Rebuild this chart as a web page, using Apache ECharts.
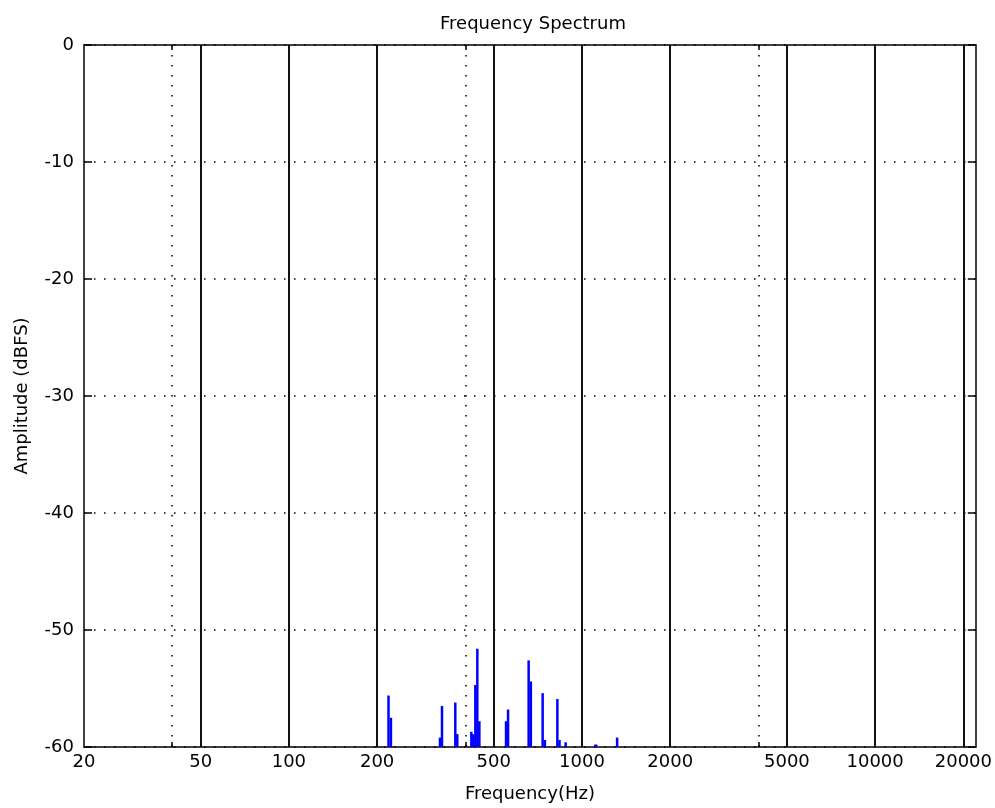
<!DOCTYPE html>
<html>
<head>
<meta charset="utf-8">
<script src="https://cdn.jsdelivr.net/npm/echarts@6/dist/echarts.min.js"></script>
<style>
  html, body { margin: 0; padding: 0; background: #fff; }
  #spectrumChart { width: 995px; height: 808px; }
</style>
</head>
<body>
<div id="spectrumChart"></div>
<script>
// spectrum bins (Hz) and their level (dBFS)
const binFreqs = [218.7, 222.9, 327.7, 332.9, 369.6, 375.4, 419.2, 425.8, 432.6, 439.4, 446.5,
    550.6, 559.4, 657.6, 669.0, 734.0, 747.0, 823.9, 838.0, 879.6, 1110, 1118, 1317.6];
const binLevels = [-55.6, -57.5, -59.2, -56.5, -56.2, -58.9, -58.7, -58.9, -54.7, -51.6, -57.8,
    -57.8, -56.8, -52.6, -54.4, -55.4, -59.4, -55.9, -59.4, -59.6, -59.8, -59.8, -59.2];

const freqLabels = [20, 50, 100, 200, 500, 1000, 2000, 5000, 10000, 20000];
const solidLines = [50, 100, 200, 500, 1000, 2000, 5000, 10000, 20000];
const dottedLines = [40, 400, 4000];
const levelMin = -60, levelMax = 0, levelStep = 10;
const freqMin = 20, freqMax = 22050;

function initSpectrum() {
    const chartDom = document.getElementById('spectrumChart');
    const myChart = echarts.init(chartDom);
    const font = 'DejaVu Sans';
    const fontSize = 18;
    const dots = [1.5, 8.5];
    const bins = binFreqs.map((f, i) => [f, binLevels[i]]);

    const logAxis = (extra) => Object.assign({
        type: 'log', logBase: 10, min: freqMin, max: freqMax,
        axisLine: { show: false, onZero: false },
        axisLabel: { show: false },
        axisTick: { show: false },
        splitLine: { show: false }
    }, extra);

    myChart.setOption({
        backgroundColor: '#fff',
        animation: false,
        title: {
            text: 'Frequency Spectrum', left: 528, top: 10, textAlign: 'center',
            textStyle: { fontFamily: font, fontSize: fontSize, fontWeight: 'normal', color: '#000' }
        },
        grid: { left: 84, right: 18, top: 45, bottom: 59 },
        xAxis: [
            logAxis({
                position: 'bottom',
                name: 'Frequency(Hz)', nameLocation: 'middle', nameGap: 38,
                nameTextStyle: { fontFamily: font, fontSize: fontSize, color: '#000' },
                axisLine: { show: true, onZero: false, lineStyle: { color: '#000', width: 1.5 } },
                axisTick: { show: false, customValues: solidLines },
                axisLabel: { show: true, customValues: freqLabels, margin: 6, color: '#000',
                    fontFamily: font, fontSize: fontSize, formatter: (v) => String(Math.round(v)) },
                splitLine: { show: true, lineStyle: { color: '#111', width: 2 } }
            }),
            logAxis({
                position: 'bottom',
                axisTick: { show: true, inside: true, length: 5, customValues: dottedLines,
                    lineStyle: { color: '#000', width: 1.5 } },
                splitLine: { show: true, lineStyle: { color: '#000', width: 1.5, type: dots } }
            }),
            logAxis({
                position: 'top',
                axisLine: { show: true, onZero: false, lineStyle: { color: '#000', width: 1.5 } },
                axisTick: { show: true, inside: true, length: 5, customValues: dottedLines,
                    lineStyle: { color: '#000', width: 1.5 } }
            })
        ],
        yAxis: [
            {
                type: 'value', min: levelMin, max: levelMax, interval: levelStep,
                name: 'Amplitude (dBFS)', nameLocation: 'middle', nameGap: 53, nameRotate: 90,
                nameTextStyle: { fontFamily: font, fontSize: fontSize, color: '#000' },
                axisLine: { show: true, onZero: false, lineStyle: { color: '#000', width: 1.5 } },
                axisTick: { show: true, inside: true, length: 8, lineStyle: { color: '#000', width: 1.5 } },
                axisLabel: { color: '#000', fontFamily: font, fontSize: fontSize, margin: 10 },
                splitLine: { show: true, lineStyle: { color: '#000', width: 1.5, type: dots } }
            },
            {
                type: 'value', min: levelMin, max: levelMax, interval: levelStep, position: 'right',
                axisLine: { show: true, onZero: false, lineStyle: { color: '#000', width: 1.5 } },
                axisTick: { show: true, inside: true, length: 8, lineStyle: { color: '#000', width: 1.5 } },
                axisLabel: { show: false },
                splitLine: { show: false }
            }
        ],
        series: [{
            type: 'custom',
            xAxisIndex: 0, yAxisIndex: 0,
            encode: { x: 0, y: 1 },
            data: bins,
            clip: true,
            z: 5,
            renderItem: (params, api) => {
                const top = api.coord([api.value(0), api.value(1)]);
                const base = api.coord([api.value(0), levelMin]);
                return {
                    type: 'rect',
                    shape: { x: top[0] - 1.25, y: top[1], width: 2.5, height: base[1] - top[1] },
                    style: { fill: '#0000ff' }
                };
            }
        }]
    });
    window.addEventListener('resize', () => myChart.resize());
}

document.addEventListener('DOMContentLoaded', initSpectrum);
</script>
</body>
</html>
